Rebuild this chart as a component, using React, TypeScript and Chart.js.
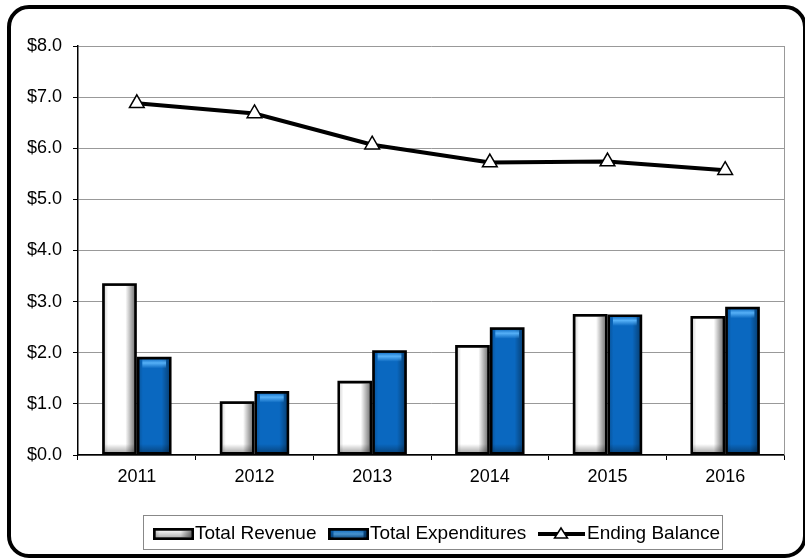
import React, { useEffect, useRef } from "react";
import { Chart, registerables } from "chart.js";

Chart.register(...registerables);

const categories = ["2011", "2012", "2013", "2014", "2015", "2016"];
const totalRevenue = [3.36, 1.05, 1.45, 2.15, 2.76, 2.72];
const totalExpenditures = [1.92, 1.25, 2.05, 2.5, 2.75, 2.9];
const endingBalance = [6.88, 6.68, 6.07, 5.72, 5.74, 5.57];
const seriesNames = ["Total Revenue", "Total Expenditures", "Ending Balance"];
const yMin = 0;
const yMax = 8;
const yStep = 1;

const FONT = "'Liberation Sans', Arial, sans-serif";

function drawBevelBar(ctx: CanvasRenderingContext2D, l: number, t: number, r: number, b: number, kind: string) {
  const w = r - l;
  const h = b - t;
  if (w <= 0 || h <= 0) return;
  ctx.save();
  ctx.beginPath();
  ctx.rect(l, t, w, h);
  ctx.clip();
  if (kind === "white") {
    ctx.fillStyle = "#ffffff";
    ctx.fillRect(l, t, w, h);
    const g = ctx.createLinearGradient(l, 0, r, 0);
    g.addColorStop(0, "rgba(0,0,0,0.14)");
    g.addColorStop(0.12, "rgba(0,0,0,0)");
    g.addColorStop(0.7, "rgba(0,0,0,0)");
    g.addColorStop(1, "rgba(0,0,0,0.5)");
    ctx.fillStyle = g;
    ctx.fillRect(l, t, w, h);
    const gb = ctx.createLinearGradient(0, b - 8, 0, b);
    gb.addColorStop(0, "rgba(0,0,0,0)");
    gb.addColorStop(1, "rgba(0,0,0,0.3)");
    ctx.fillStyle = gb;
    ctx.fillRect(l, b - 8, w, 8);
  } else {
    ctx.fillStyle = "#0a68c0";
    ctx.fillRect(l, t, w, h);
    const g = ctx.createLinearGradient(l, 0, r, 0);
    g.addColorStop(0, "rgba(0,0,0,0.15)");
    g.addColorStop(0.12, "rgba(0,0,0,0)");
    g.addColorStop(0.75, "rgba(0,0,0,0)");
    g.addColorStop(1, "rgba(0,0,0,0.35)");
    ctx.fillStyle = g;
    ctx.fillRect(l, t, w, h);
    const gt = ctx.createLinearGradient(0, t, 0, t + 9);
    gt.addColorStop(0, "rgba(90,180,250,0.2)");
    gt.addColorStop(0.4, "rgba(90,180,250,0.95)");
    gt.addColorStop(1, "rgba(90,180,250,0)");
    ctx.fillStyle = gt;
    ctx.fillRect(l + 3, t, w - 6, 9);
    const gb = ctx.createLinearGradient(0, b - 8, 0, b);
    gb.addColorStop(0, "rgba(0,0,0,0)");
    gb.addColorStop(1, "rgba(0,0,0,0.3)");
    ctx.fillStyle = gb;
    ctx.fillRect(l, b - 8, w, 8);
  }
  ctx.restore();
}

const bevelPlugin = {
  id: "bevelPlugin",
  afterDatasetDraw(chart: any, args: any) {
    const ds = chart.data.datasets[args.index];
    if (ds.type !== "bar") return;
    const ctx = chart.ctx as CanvasRenderingContext2D;
    const bw = 2.5;
    args.meta.data.forEach((el: any) => {
      const p = el.getProps(["x", "y", "base", "width"], true);
      const left = p.x - p.width / 2;
      const right = p.x + p.width / 2;
      const top = Math.min(p.y, p.base);
      const bottom = Math.max(p.y, p.base);
      drawBevelBar(ctx, left + bw, top + bw, right - bw, bottom - bw, ds.bevel);
    });
  },
};

const framePlugin = {
  id: "framePlugin",
  afterDatasetsDraw(chart: any) {
    const { ctx, chartArea } = chart;
    ctx.save();
    ctx.strokeStyle = "#999999";
    ctx.lineWidth = 1;
    ctx.beginPath();
    ctx.moveTo(Math.round(chartArea.right) + 0.5, chartArea.top);
    ctx.lineTo(Math.round(chartArea.right) + 0.5, chartArea.bottom);
    ctx.stroke();
    ctx.restore();
  },
  afterDraw(chart: any) {
    const ctx = chart.ctx as CanvasRenderingContext2D;
    ctx.save();
    const bx = 143.5, by = 515.5, bwid = 579, bh = 34;
    ctx.strokeStyle = "#888888";
    ctx.lineWidth = 1;
    ctx.strokeRect(bx, by, bwid, bh);
    ctx.font = `19px ${FONT}`;
    ctx.textBaseline = "middle";
    const cy = 534;
    const sw = 41;
    const sh = 12;
    const swatchX = [153, 328];
    ["white", "blue"].forEach((kind, i) => {
      const x = swatchX[i];
      ctx.fillStyle = "#000";
      ctx.fillRect(x, cy - sh / 2, sw, sh);
      drawBevelBar(ctx, x + 2.5, cy - sh / 2 + 2.5, x + sw - 2.5, cy + sh / 2 - 2.5, kind);
      ctx.fillStyle = "#000";
      ctx.fillText(seriesNames[i], x + sw + 1, cy);
    });
    const x = 538;
    ctx.strokeStyle = "#000";
    ctx.lineWidth = 4;
    ctx.beginPath();
    ctx.moveTo(x, cy);
    ctx.lineTo(x + 47, cy);
    ctx.stroke();
    const tx = x + 23;
    ctx.beginPath();
    ctx.moveTo(tx, cy - 6);
    ctx.lineTo(tx + 6.5, cy + 4);
    ctx.lineTo(tx - 6.5, cy + 4);
    ctx.closePath();
    ctx.fillStyle = "#fff";
    ctx.fill();
    ctx.lineWidth = 1.5;
    ctx.stroke();
    ctx.fillStyle = "#000";
    ctx.fillText(seriesNames[2], x + 49, cy);
    ctx.restore();
  },
};

export default function App() {
  const canvasRef = useRef<HTMLCanvasElement | null>(null);

  useEffect(() => {
    const canvas = canvasRef.current;
    if (!canvas) return;
    Chart.defaults.font.family = FONT;
    const chart = new Chart(canvas, {
      type: "bar",
      data: {
        labels: categories,
        datasets: [
          {
            type: "line",
            label: seriesNames[2],
            data: endingBalance,
            borderColor: "#000",
            borderWidth: 4,
            tension: 0,
            pointStyle: "triangle",
            pointRadius: 8.5,
            pointBackgroundColor: "#fff",
            pointBorderColor: "#000",
            pointBorderWidth: 1.5,
            order: 0,
          } as any,
          {
            type: "bar",
            label: seriesNames[0],
            data: totalRevenue,
            backgroundColor: "#000",
            borderColor: "#000",
            borderWidth: 0,
            categoryPercentage: 0.59,
            barPercentage: 1,
            order: 1,
            bevel: "white",
          } as any,
          {
            type: "bar",
            label: seriesNames[1],
            data: totalExpenditures,
            backgroundColor: "#000",
            borderColor: "#000",
            borderWidth: 0,
            categoryPercentage: 0.59,
            barPercentage: 1,
            order: 1,
            bevel: "blue",
          } as any,
        ],
      },
      options: {
        responsive: false,
        animation: false,
        devicePixelRatio: 1,
        layout: { padding: { left: 26, right: 21, top: 46, bottom: 72 } },
        plugins: {
          legend: { display: false },
          tooltip: { enabled: false },
        },
        scales: {
          x: {
            type: "category",
            offset: true,
            grid: {
              offset: true,
              drawOnChartArea: false,
              drawTicks: true,
              tickLength: 5,
              color: "#000",
            },
            border: { color: "#000", width: 1.5 },
            ticks: {
              color: "#000",
              font: { size: 18, family: FONT },
              padding: 6,
              maxRotation: 0,
            },
            afterFit: (s: any) => {
              s.height = 33;
            },
          },
          y: {
            min: yMin,
            max: yMax,
            grid: {
              color: "#999999",
              lineWidth: 1,
              tickLength: 5,
              tickColor: "#000",
            },
            border: { color: "#000", width: 1.5 },
            ticks: {
              stepSize: yStep,
              color: "#000",
              font: { size: 18, family: FONT },
              padding: 11,
              callback: (v: any) => "$" + Number(v).toFixed(1),
            },
            afterFit: (s: any) => {
              s.width = 52;
            },
          },
        },
      },
      plugins: [bevelPlugin, framePlugin],
    } as any);
    return () => chart.destroy();
  }, []);

  return (
    <div style={{ position: "fixed", left: 0, top: 0, width: 805, height: 560, background: "#fff", overflow: "hidden" }}>
      <canvas ref={canvasRef} width={805} height={560} style={{ display: "block", width: 805, height: 560 }} />
      <div
        style={{
          position: "absolute",
          left: 7,
          top: 5,
          width: 800,
          height: 553,
          border: "4px solid #000",
          borderRadius: 22,
          boxSizing: "border-box",
          pointerEvents: "none",
        }}
      />
    </div>
  );
}
